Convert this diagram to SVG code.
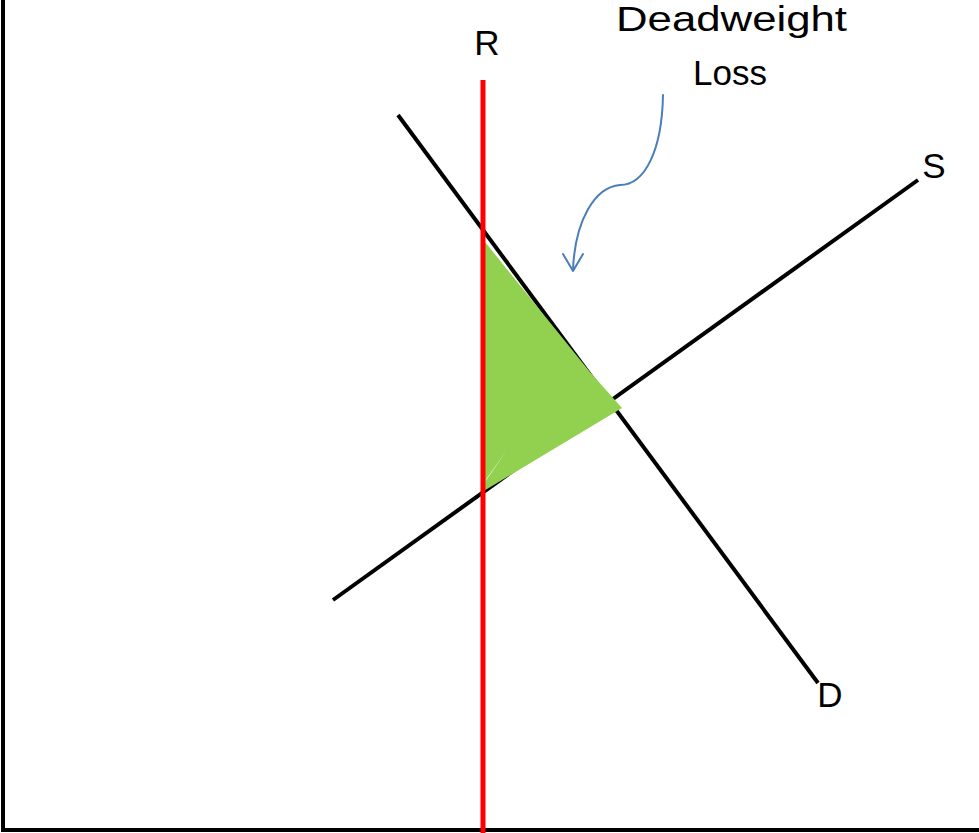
<svg xmlns="http://www.w3.org/2000/svg" width="979" height="833" viewBox="0 0 979 833">
<style>
.lbl{font-family:"Liberation Sans",Arial,sans-serif;font-size:35px;fill:#000}
.ln{stroke:#000;stroke-width:4;fill:none}
.ptr{fill:none;stroke:#4A7EBB;stroke-width:2;stroke-linecap:round;stroke-linejoin:round}
</style>
<rect width="979" height="833" fill="#fff"/>
<g id="connectors">
<line id="y-axis" class="ln" x1="3" y1="0" x2="3" y2="831"/>
<line id="x-axis" class="ln" x1="1" y1="830" x2="979" y2="830"/>
<line id="demand" class="ln" x1="398" y1="115" x2="818" y2="683"/>
<line id="supply" class="ln" x1="333" y1="600" x2="918" y2="180"/>
</g>
<g id="area">
<polygon points="485,242 590,372 622,408 482,492" fill="#92D050"/>
<polygon points="507,450 485,482 487,478" fill="#fff"/>
</g>
<g id="restriction">
<line x1="483" y1="80" x2="483" y2="833" stroke="#FF0000" stroke-width="5"/>
</g>
<g id="pointer">
<path class="ptr" d="M663,95 C662,150 645,185 620,185 C595,187 575,220 573,270"/>
<path class="ptr" d="M563,254 L573,271 L583,254"/>
</g>
<g id="label-R"><text class="lbl" x="487" y="55" text-anchor="middle" font-size="40">R</text></g>
<g id="label-S"><text class="lbl" x="934" y="178" text-anchor="middle">S</text></g>
<g id="label-D"><text class="lbl" x="830" y="707" text-anchor="middle">D</text></g>
<g id="label-dwl">
<text class="lbl" x="616" y="31" font-size="38" textLength="231" lengthAdjust="spacingAndGlyphs">Deadweight</text>
<text class="lbl" x="693" y="85" font-size="38" textLength="74" lengthAdjust="spacingAndGlyphs">Loss</text>
</g>
</svg>
